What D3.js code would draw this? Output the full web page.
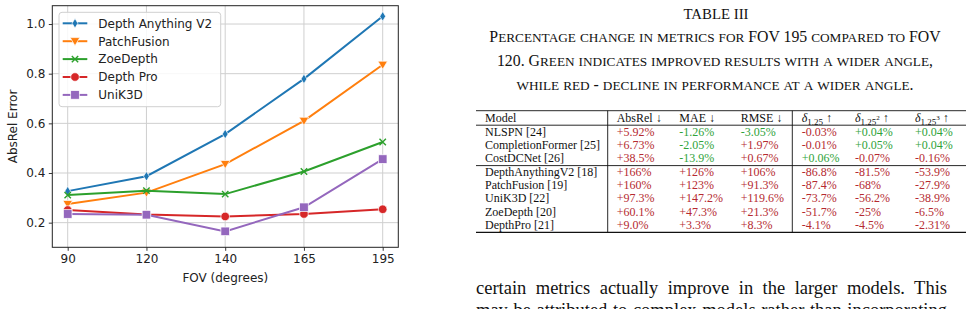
<!DOCTYPE html>
<html><head><meta charset="utf-8">
<script src="https://cdn.jsdelivr.net/npm/d3@7"></script>
<style>html,body{margin:0;padding:0;background:#fff;}svg{display:block;}</style>
</head><body>
<svg id="c" width="972" height="309"></svg>
<script>
// ---------- chart data ----------
const fovs = ["90", "120", "140", "165", "195"];
const seriesNames = ["Depth Anything V2", "PatchFusion", "ZoeDepth", "Depth Pro", "UniK3D"];
const depthAnythingV2 = [0.327, 0.387, 0.557, 0.779, 1.031];
const patchFusion = [0.275, 0.321, 0.436, 0.610, 0.836];
const zoeDepth = [0.311, 0.329, 0.315, 0.406, 0.525];
const depthPro = [0.251, 0.233, 0.225, 0.235, 0.254];
const uniK3D = [0.235, 0.232, 0.165, 0.262, 0.456];
const yTicks = [0.2, 0.4, 0.6, 0.8, 1.0];

// ---------- table data ----------
const tableModels = ["NLSPN [24]", "CompletionFormer [25]", "CostDCNet [26]", "DepthAnythingV2 [18]", "PatchFusion [19]", "UniK3D [22]", "ZoeDepth [20]", "DepthPro [21]"];
const absRelChange = ["+5.92%", "+6.73%", "+38.5%", "+166%", "+160%", "+97.3%", "+60.1%", "+9.0%"];
const maeChange = ["-1.26%", "-2.05%", "-13.9%", "+126%", "+123%", "+147.2%", "+47.3%", "+3.3%"];
const rmseChange = ["-3.05%", "+1.97%", "+0.67%", "+106%", "+91.3%", "+119.6%", "+21.3%", "+8.3%"];
const delta1Change = ["-0.03%", "-0.01%", "+0.06%", "-86.8%", "-87.4%", "-73.7%", "-51.7%", "-4.1%"];
const delta2Change = ["+0.04%", "+0.05%", "-0.07%", "-81.5%", "-68%", "-56.2%", "-25%", "-4.5%"];
const delta3Change = ["+0.04%", "+0.04%", "-0.16%", "-53.9%", "-27.9%", "-38.9%", "-6.5%", "-2.31%"];
const captionTitle = "TABLE III";
const captionLines = ["Percentage change in metrics for FOV 195 compared to FOV",
  "120. Green indicates improved results with a wider angle,",
  "while red - decline in performance at a wider angle."];
const bodyLines = ["certain metrics actually improve in the larger models. This",
  "may be attributed to complex models rather than incorporating"];

const svg = d3.select("#c");
const colors = ["#1f77b4", "#ff7f0e", "#2ca02c", "#d62728", "#9467bd"];
const allSeries = [depthAnythingV2, patchFusion, zoeDepth, depthPro, uniK3D];
const markerTypes = ["thin_diamond", "tri_down", "x", "circle", "square"];

// ---------- chart ----------
const plot = {l: 52.3, r: 398.3, t: 5.7, b: 247.3};
const x = d3.scalePoint().domain(fovs).range([67.7, 382.7]);
const y = d3.scaleLinear().domain([0.1, 1.075]).range([247.5, 5.4]);
const font = "DejaVu Sans, sans-serif";

const g = svg.append("g");
// grid
g.append("g").selectAll("line").data(fovs).join("line")
  .attr("x1", d => x(d)).attr("x2", d => x(d)).attr("y1", plot.t).attr("y2", plot.b)
  .attr("stroke", "#cfcfcf").attr("stroke-width", 1);
g.append("g").selectAll("line").data(yTicks).join("line")
  .attr("x1", plot.l).attr("x2", plot.r).attr("y1", d => y(d)).attr("y2", d => y(d))
  .attr("stroke", "#cfcfcf").attr("stroke-width", 1);

// axes
const xAxis = g.append("g").attr("transform", `translate(0,${plot.b})`)
  .call(d3.axisBottom(x).tickSize(3.5).tickPadding(3.5));
const yAxis = g.append("g").attr("transform", `translate(${plot.l},0)`)
  .call(d3.axisLeft(y).tickValues(yTicks).tickFormat(d3.format(".1f")).tickSize(3.5).tickPadding(3.5));
[xAxis, yAxis].forEach(a => {
  a.select(".domain").remove();
  a.selectAll("text").attr("font-family", font).attr("font-size", 12).attr("fill", "#222");
  a.selectAll("line").attr("stroke", "#222").attr("stroke-width", 0.9);
});
// frame
g.append("rect").attr("x", plot.l).attr("y", plot.t).attr("width", plot.r - plot.l).attr("height", plot.b - plot.t)
  .attr("fill", "none").attr("stroke", "#222").attr("stroke-width", 1);

g.append("text").attr("x", (plot.l + plot.r) / 2).attr("y", 281.5).attr("text-anchor", "middle")
  .attr("font-family", font).attr("font-size", 12).attr("fill", "#222").text("FOV (degrees)");
g.append("text").attr("transform", `translate(17,${(plot.t + plot.b) / 2}) rotate(-90)`).attr("text-anchor", "middle")
  .attr("font-family", font).attr("font-size", 12).attr("fill", "#222").text("AbsRel Error");

function drawMarker(sel, type, cx, cy, color) {
  if (type === "circle") {
    sel.append("circle").attr("cx", cx).attr("cy", cy).attr("r", 4.3).attr("fill", color).attr("stroke", "#fff").attr("stroke-width", 0.7);
  } else if (type === "square") {
    sel.append("rect").attr("x", cx - 4.3).attr("y", cy - 4.3).attr("width", 8.6).attr("height", 8.6).attr("fill", color).attr("stroke", "#fff").attr("stroke-width", 0.7);
  } else if (type === "tri_down") {
    const s = 4.8;
    sel.append("path").attr("d", `M${cx - s},${cy - s * 0.75}L${cx + s},${cy - s * 0.75}L${cx},${cy + s * 0.95}Z`).attr("fill", color).attr("stroke", "#fff").attr("stroke-width", 0.7);
  } else if (type === "thin_diamond") {
    sel.append("path").attr("d", `M${cx},${cy - 4.8}L${cx + 2.9},${cy}L${cx},${cy + 4.8}L${cx - 2.9},${cy}Z`).attr("fill", color).attr("stroke", "#fff").attr("stroke-width", 0.7);
  } else if (type === "x") {
    const s = 3.2;
    sel.append("path").attr("d", `M${cx - s},${cy - s}L${cx + s},${cy + s}M${cx - s},${cy + s}L${cx + s},${cy - s}`).attr("stroke", color).attr("stroke-width", 1.4).attr("fill", "none");
  }
}

const line = d3.line().x((d, i) => x(fovs[i])).y(d => y(d));
allSeries.forEach((vals, si) => {
  const sg = g.append("g");
  sg.append("path").datum(vals).attr("d", line).attr("fill", "none").attr("stroke", colors[si]).attr("stroke-width", 2);
  vals.forEach((v, i) => drawMarker(sg, markerTypes[si], x(fovs[i]), y(v), colors[si]));
});

// legend
const lg = g.append("g");
lg.append("rect").attr("x", 59).attr("y", 12.3).attr("width", 161.7).attr("height", 94.4).attr("rx", 3)
  .attr("fill", "#fff").attr("fill-opacity", 0.85).attr("stroke", "#d0d0d0").attr("stroke-width", 1);
seriesNames.forEach((name, i) => {
  const cy = 23.3 + i * 17.9;
  lg.append("line").attr("x1", 62.7).attr("x2", 87.3).attr("y1", cy).attr("y2", cy).attr("stroke", colors[i]).attr("stroke-width", 2);
  drawMarker(lg, markerTypes[i], 75, cy, colors[i]);
  lg.append("text").attr("x", 98.3).attr("y", cy + 4.3).attr("font-family", font).attr("font-size", 12).attr("fill", "#222").text(name);
});

// ---------- table caption ----------
const serif = "Liberation Serif, Times New Roman, serif";
svg.append("text").attr("x", 716).attr("y", 18.5).attr("text-anchor", "middle").attr("font-family", serif)
  .attr("font-size", 14.8).attr("fill", "#111").text(captionTitle);

function smallCaps(textSel, str, size) {
  const runs = str.match(/[a-z]+|[^a-z]+/g);
  runs.forEach(r => {
    if (/^[a-z]+$/.test(r)) textSel.append("tspan").attr("font-size", size * 0.84).text(r.toUpperCase());
    else textSel.append("tspan").attr("font-size", size).text(r);
  });
}
captionLines.forEach((ln, i) => {
  const t = svg.append("text").attr("x", 715).attr("y", 42 + i * 24).attr("text-anchor", "middle")
    .attr("font-family", serif).attr("fill", "#111");
  smallCaps(t, ln, 15.8);
});

// ---------- table ----------
const tg = svg.append("g").attr("font-family", serif).attr("font-size", 12);
const rowY = [131.7, 145, 158.3, 171.7, 185, 198.3, 211.6, 224.9];
const colX = [485, 616.7, 679.3, 740.7, 801.7, 855, 915];
const red = "#b52a30", green = "#2fa33a";
const cols = [absRelChange, maeChange, rmseChange, delta1Change, delta2Change, delta3Change];
const lowerBetter = [true, true, true, false, false, false];

// rules
[[110.7, 0.9], [125.2, 0.9], [165.6, 0.9], [232.3, 1.3]].forEach(([yy, w]) =>
  tg.append("line").attr("x1", 476).attr("x2", 966).attr("y1", yy).attr("y2", yy).attr("stroke", "#111").attr("stroke-width", w));
[607.7, 792.3].forEach(xx =>
  tg.append("line").attr("x1", xx).attr("x2", xx).attr("y1", 110.7).attr("y2", 232.3).attr("stroke", "#111").attr("stroke-width", 0.9));

// header
const hy = 122;
tg.append("text").attr("x", colX[0]).attr("y", hy).attr("fill", "#111").text("Model");
tg.append("text").attr("x", colX[1]).attr("y", hy).attr("fill", "#111").text("AbsRel ↓");
tg.append("text").attr("x", colX[2]).attr("y", hy).attr("fill", "#111").text("MAE ↓");
tg.append("text").attr("x", colX[3]).attr("y", hy).attr("fill", "#111").text("RMSE ↓");
["", "2", "3"].forEach((sup, k) => {
  const t = tg.append("text").attr("x", colX[4 + k]).attr("y", hy).attr("fill", "#111");
  t.append("tspan").attr("font-style", "italic").text("δ");
  t.append("tspan").attr("font-size", 9).attr("dy", 2.5).text("1.25");
  if (sup) {
    t.append("tspan").attr("font-size", 7).attr("dy", -5).text(sup);
    t.append("tspan").attr("dy", 2.5).text(" ↑");
  } else {
    t.append("tspan").attr("dy", -2.5).text(" ↑");
  }
});

tableModels.forEach((m, i) => {
  tg.append("text").attr("x", colX[0]).attr("y", rowY[i] + 4).attr("fill", "#111").text(m);
  cols.forEach((col, c) => {
    const v = col[i];
    const improved = lowerBetter[c] ? v.startsWith("-") : v.startsWith("+");
    tg.append("text").attr("x", colX[c + 1]).attr("y", rowY[i] + 4).attr("fill", improved ? green : red).text(v);
  });
});

// ---------- body text (justified) ----------
bodyLines.forEach((ln, i) => {
  const t = svg.append("text").attr("x", 476).attr("y", 294 + i * 21.5).attr("font-family", serif)
    .attr("font-size", 18.5).attr("fill", "#111").text(ln);
  const w = t.node().getComputedTextLength();
  const spaces = (ln.match(/ /g) || []).length;
  t.attr("word-spacing", (471 - w) / spaces);
});
</script>
</body></html>
